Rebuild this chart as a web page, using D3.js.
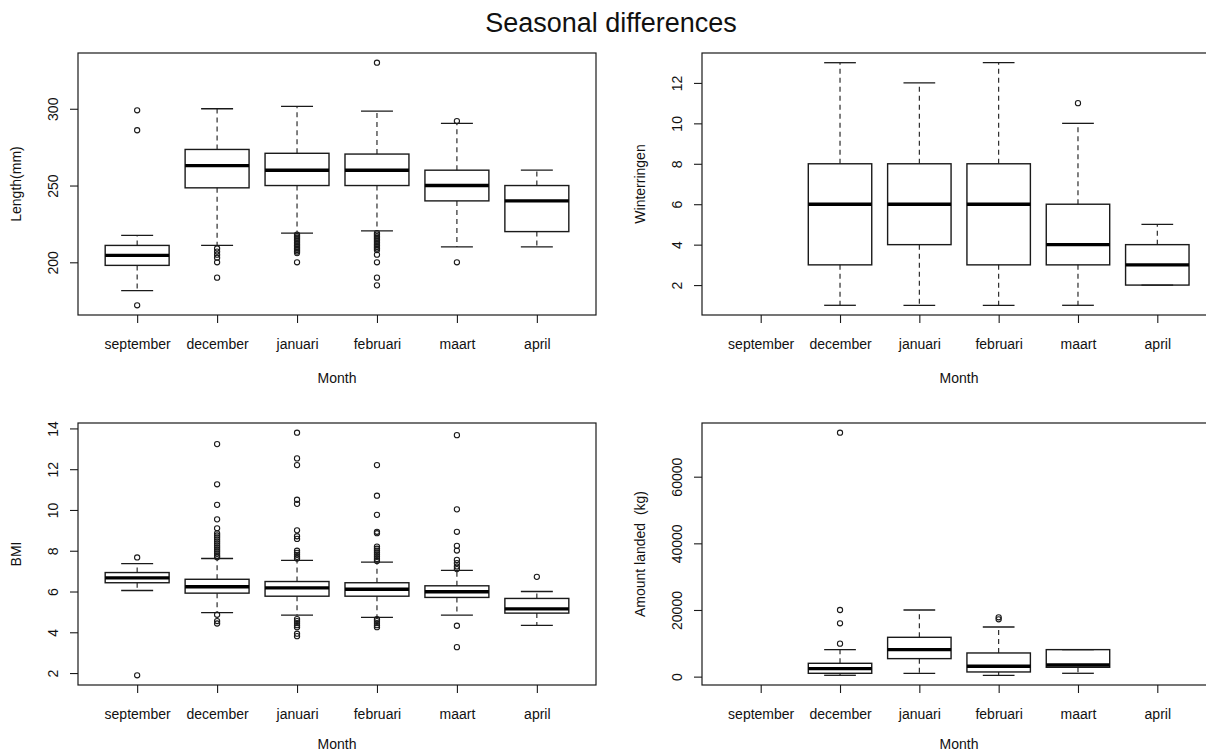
<!DOCTYPE html>
<html>
<head>
<meta charset="utf-8">
<script src="https://cdn.jsdelivr.net/npm/d3@7"></script>
<style>
  html, body { margin: 0; padding: 0; background: #fff; }
  svg { display: block; }
  text { font-family: "Liberation Sans", Arial, sans-serif; fill: #111; white-space: pre; }
</style>
</head>
<body>
<svg id="chart" width="1206" height="754"></svg>
<script>
// Sampling months, in survey order
const months = ["september", "december", "januari", "februari", "maart", "april"];

// Box statistics per month: [lower whisker, Q1, median, Q3, upper whisker]; null = no samples
const lengthStats = [
  [181.5, 198, 204.5, 211, 217.5],
  [211, 248.5, 263, 273.5, 300],
  [219, 250, 260, 271, 301.5],
  [220.5, 250, 260, 270.5, 298.5],
  [210, 240, 250, 260, 290.5],
  [210, 220, 240, 250, 260]
];
const lengthOutliers = [
  [299, 286, 172],
  [209, 207, 205, 203, 200, 190],
  [218, 217, 216, 215, 214, 213, 212, 211, 210, 209, 208, 207, 206, 200],
  [330, 219, 218, 217, 216, 215, 214, 213, 212, 211, 210, 209, 208, 205, 200, 190, 185],
  [292, 200],
  []
];
const lengthTicks = [200, 250, 300];

const ringStats = [
  null,
  [1, 3, 6, 8, 13],
  [1, 4, 6, 8, 12],
  [1, 3, 6, 8, 13],
  [1, 3, 4, 6, 10],
  [2, 2, 3, 4, 5]
];
const ringOutliers = [[], [], [], [], [11], []];
const ringTicks = [2, 4, 6, 8, 10, 12];

const bmiStats = [
  [6.05, 6.43, 6.67, 6.93, 7.37],
  [4.96, 5.92, 6.23, 6.60, 7.62],
  [4.84, 5.77, 6.18, 6.49, 7.53],
  [4.73, 5.77, 6.11, 6.43, 7.44],
  [4.84, 5.71, 5.99, 6.28, 7.04],
  [4.34, 4.94, 5.15, 5.66, 6.00]
];
const bmiOutliers = [
  [7.67, 1.89],
  [13.23, 11.26, 10.25, 9.54, 9.10, 8.85, 8.75, 8.65, 8.55, 8.45, 8.35, 8.25, 8.15, 8.05, 7.95, 7.85, 7.75, 7.68, 4.86, 4.55, 4.43],
  [13.79, 12.53, 12.2, 10.5, 10.3, 9.0, 8.71, 8.58, 8.0, 7.9, 7.8, 7.7, 7.62, 4.65, 4.55, 4.45, 4.35, 4.25, 3.93, 3.81],
  [12.2, 10.7, 9.76, 8.93, 8.86, 8.2, 8.1, 8.0, 7.9, 7.8, 7.7, 7.6, 7.5, 4.64, 4.55, 4.45, 4.35, 4.25],
  [13.67, 10.03, 8.93, 8.24, 8.01, 7.55, 7.39, 7.23, 7.1, 4.32, 3.27],
  [6.72]
];
const bmiTicks = [2, 4, 6, 8, 10, 12, 14];

const landedStats = [
  null,
  [400, 1000, 2400, 4000, 8100],
  [1000, 5400, 8100, 11800, 20000],
  [400, 1400, 3100, 7100, 14900],
  [1000, 2800, 3500, 8100, 8100],
  null
];
const landedOutliers = [[], [73200, 20000, 16000, 9900], [], [17800, 17200], [], []];
const landedTicks = [0, 20000, 40000, 60000];

const svg = d3.select("#chart");
const ink = "#1a1a1a";

svg.append("text")
  .attr("x", 611).attr("y", 32)
  .attr("text-anchor", "middle")
  .style("font-size", "27px")
  .text("Seasonal differences");

function boxPanel(cfg) {
  const { left, right, top, bottom, stats, outliers, ticks, ylabel, titleGap } = cfg;

  // extent of every drawn value, padded 4% on both sides
  const vals = [];
  stats.forEach(s => { if (s) vals.push(...s); });
  outliers.forEach(o => vals.push(...o));
  const [lo, hi] = d3.extent(vals);
  const pad = (hi - lo) * 0.04;

  const y = d3.scaleLinear().domain([lo - pad, hi + pad]).range([bottom, top]);
  const x = d3.scalePoint().domain(months).range([left, right]).padding(0.74);
  const boxW = x.step() * 0.8;
  const stapleW = boxW / 2;

  const g = svg.append("g");

  // y axis
  const ya = g.append("g")
    .attr("transform", `translate(${left},0)`)
    .call(d3.axisLeft(y).tickValues(ticks).tickSize(8).tickSizeOuter(0).tickFormat(d3.format("d")));
  ya.select(".domain").remove();
  ya.selectAll("line").attr("stroke", ink).attr("stroke-width", 1.1);
  ya.selectAll("text")
    .attr("x", null).attr("dy", null)
    .attr("transform", "translate(-20,0) rotate(-90)")
    .attr("text-anchor", "middle")
    .style("font-size", "14px")
    .style("font-family", "'Liberation Sans', Arial, sans-serif")
    .attr("fill", "#111");

  // x axis
  const xa = g.append("g")
    .attr("transform", `translate(0,${bottom})`)
    .call(d3.axisBottom(x).tickSize(8).tickSizeOuter(0));
  xa.select(".domain").remove();
  xa.selectAll("line").attr("stroke", ink).attr("stroke-width", 1.1);
  xa.selectAll("text")
    .attr("y", 33.5).attr("dy", null)
    .style("font-size", "14px")
    .style("font-family", "'Liberation Sans', Arial, sans-serif")
    .attr("fill", "#111");

  // axis titles
  g.append("text")
    .attr("transform", `translate(${left - 57},${(top + bottom) / 2}) rotate(-90)`)
    .attr("text-anchor", "middle")
    .style("font-size", "14px")
    .text(ylabel);
  g.append("text")
    .attr("x", (left + right) / 2).attr("y", bottom + titleGap)
    .attr("text-anchor", "middle")
    .style("font-size", "14px")
    .text("Month");

  // plot frame
  g.append("rect")
    .attr("x", left).attr("y", top)
    .attr("width", right - left).attr("height", bottom - top)
    .attr("fill", "none").attr("stroke", ink).attr("stroke-width", 1.2);

  const data = months.map((m, i) => ({ m, s: stats[i], o: outliers[i] }));

  const boxes = g.selectAll("g.box").data(data.filter(d => d.s)).join("g").attr("class", "box");

  // whiskers (dashed) from the box edges to the whisker ends
  boxes.each(function (d) {
    const b = d3.select(this);
    const cx = x(d.m);
    const [wl, q1, med, q3, wh] = d.s;
    if (wh > q3) {
      b.append("line").attr("x1", cx).attr("x2", cx).attr("y1", y(q3)).attr("y2", y(wh))
        .attr("stroke", ink).attr("stroke-width", 1.1).attr("stroke-dasharray", "5,4");
    }
    if (wl < q1) {
      b.append("line").attr("x1", cx).attr("x2", cx).attr("y1", y(q1)).attr("y2", y(wl))
        .attr("stroke", ink).attr("stroke-width", 1.1).attr("stroke-dasharray", "5,4");
    }
    // staples
    [wl, wh].forEach(v => {
      b.append("line").attr("x1", cx - stapleW / 2).attr("x2", cx + stapleW / 2)
        .attr("y1", y(v)).attr("y2", y(v))
        .attr("stroke", ink).attr("stroke-width", 1.3);
    });
    // box
    b.append("rect")
      .attr("x", cx - boxW / 2).attr("width", boxW)
      .attr("y", y(q3)).attr("height", Math.max(0, y(q1) - y(q3)))
      .attr("fill", "none").attr("stroke", ink).attr("stroke-width", 1.4);
    // median
    b.append("line").attr("x1", cx - boxW / 2).attr("x2", cx + boxW / 2)
      .attr("y1", y(med)).attr("y2", y(med))
      .attr("stroke", "#000").attr("stroke-width", 3.4);
  });

  // outliers
  const pts = [];
  data.forEach(d => d.o.forEach(v => pts.push({ m: d.m, v })));
  g.selectAll("circle.out").data(pts).join("circle")
    .attr("class", "out")
    .attr("cx", d => x(d.m)).attr("cy", d => y(d.v)).attr("r", 2.6)
    .attr("fill", "none").attr("stroke", ink).attr("stroke-width", 1.1);
}

boxPanel({ left: 78, right: 596, top: 53, bottom: 315, stats: lengthStats, outliers: lengthOutliers, ticks: lengthTicks, ylabel: "Length(mm)", titleGap: 68 });
boxPanel({ left: 702, right: 1216, top: 53, bottom: 315, stats: ringStats, outliers: ringOutliers, ticks: ringTicks, ylabel: "Winterringen", titleGap: 68 });
boxPanel({ left: 78, right: 596, top: 423, bottom: 685, stats: bmiStats, outliers: bmiOutliers, ticks: bmiTicks, ylabel: "BMI", titleGap: 64 });
boxPanel({ left: 702, right: 1216, top: 423, bottom: 685, stats: landedStats, outliers: landedOutliers, ticks: landedTicks, ylabel: "Amount landed  (kg)", titleGap: 64 });
</script>
</body>
</html>
